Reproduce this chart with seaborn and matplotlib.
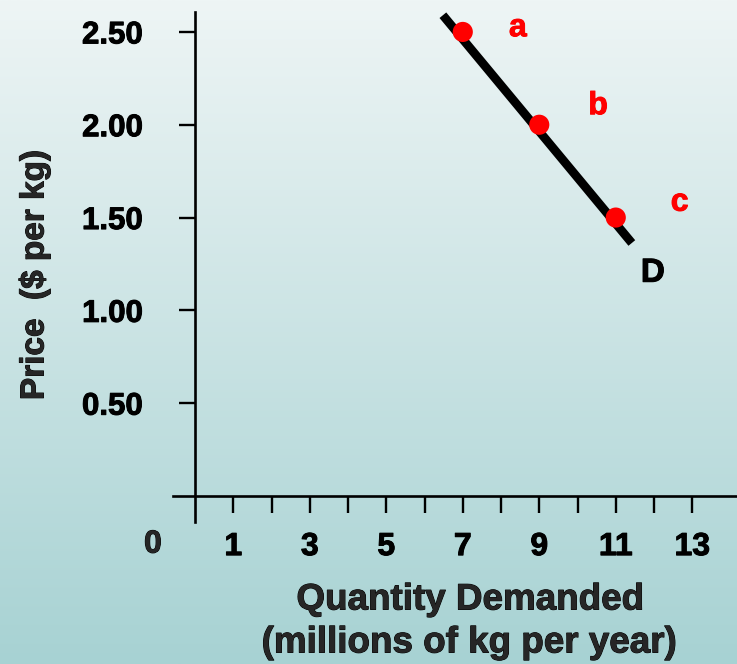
import numpy as np
import matplotlib
matplotlib.use("Agg")
import matplotlib.pyplot as plt
import matplotlib.patheffects as pe
import seaborn as sns

# Demand schedule: quantity demanded (millions of kg / year) at each price ($ per kg)
quantity = [7, 9, 11]
price = [2.50, 2.00, 1.50]
point_names = ["a", "b", "c"]

# Demand curve D drawn as a straight segment
curve_q = [6.48, 11.42]
curve_p = [2.59, 1.363]

x_tick_values = list(range(1, 14))
x_tick_labels = [str(v) if v % 2 == 1 else "" for v in x_tick_values]
y_tick_values = [0.5, 1.0, 1.5, 2.0, 2.5]
y_tick_labels = ["0.50", "1.00", "1.50", "2.00", "2.50"]

sns.set_theme(style="white")
plt.rcParams["font.family"] = ["Liberation Sans", "DejaVu Sans"]
plt.rcParams["font.weight"] = "bold"

# slightly heavier strokes for the bold lettering
heavy = [pe.withStroke(linewidth=0.7, foreground="black")]
heavy_red = [pe.withStroke(linewidth=0.7, foreground="#ff0000")]

fig = plt.figure(figsize=(7.37, 6.64), dpi=100)

# vertical background gradient
bg = fig.add_axes([0, 0, 1, 1], zorder=-1)
top = np.array([238, 245, 245]) / 255
bottom = np.array([167, 210, 211]) / 255
t = np.linspace(0, 1, 256)[:, None]
grad = top[None, :] * (1 - t) + bottom[None, :] * t
bg.imshow(grad[:, None, :], aspect="auto", extent=[0, 1, 0, 1])
bg.axis("off")

ax = fig.add_axes([0, 0, 1, 1])
ax.patch.set_alpha(0)
ax.set_xlim(-5.10, 14.17)
ax.set_ylim(-0.905, 2.672)

sns.lineplot(x=curve_q, y=curve_p, ax=ax, color="black", linewidth=6.3,
             solid_capstyle="butt", zorder=2)
sns.scatterplot(x=quantity, y=price, ax=ax, color="#ff0000", s=210,
                edgecolor="none", zorder=3)

label_offsets = [(1.44, 0.02), (1.54, 0.10), (1.67, 0.08)]
for q, p, name, (dx, dy) in zip(quantity, price, point_names, label_offsets):
    ax.text(q + dx, p + dy, name, color="#ff0000", fontsize=23,
            fontweight="bold", ha="center", va="center", path_effects=heavy_red)
ax.text(11.97, 1.20, "D", color="black", fontsize=24, fontweight="bold",
        ha="center", va="center", path_effects=heavy)

# axes through the origin
for side in ["top", "right"]:
    ax.spines[side].set_visible(False)
ax.spines["left"].set_position(("data", 0))
ax.spines["bottom"].set_position(("data", 0))
ax.spines["left"].set_bounds(-0.14, 2.61)
ax.spines["bottom"].set_bounds(-0.58, 14.17)
for side in ["left", "bottom"]:
    ax.spines[side].set_color("black")
    ax.spines[side].set_linewidth(1.9)

ax.set_yticks(y_tick_values)
ax.set_yticklabels(y_tick_labels)
ax.set_xticks(x_tick_values)
ax.set_xticklabels(x_tick_labels)
ax.tick_params(axis="y", direction="out", length=11.5, width=1.7,
               pad=26, labelsize=22.5, colors="black", left=True)
ax.tick_params(axis="x", direction="out", length=12, width=1.7,
               pad=14, labelsize=23, colors="black", bottom=True)
for lab in ax.get_xticklabels() + ax.get_yticklabels():
    lab.set_fontweight("bold")
    lab.set_path_effects(heavy)
ax.text(-1.1, -0.262, "0", fontsize=23, fontweight="bold",
        ha="center", va="center", path_effects=heavy)
ax.set_xlabel("")
ax.set_ylabel("")

fig.text(35 / 737, 1 - 275 / 664, "Price  ($ per kg)", rotation=90,
         fontsize=24, fontweight="bold", ha="center", va="center",
         path_effects=heavy)
fig.text(470 / 737, 1 - 600 / 664, "Quantity Demanded", fontsize=26.5,
         fontweight="bold", ha="center", va="center", path_effects=heavy)
fig.text(469 / 737, 1 - 643 / 664, "(millions of kg per year)", fontsize=26.5,
         fontweight="bold", ha="center", va="center", path_effects=heavy)

fig.savefig("out.png", dpi=100)
